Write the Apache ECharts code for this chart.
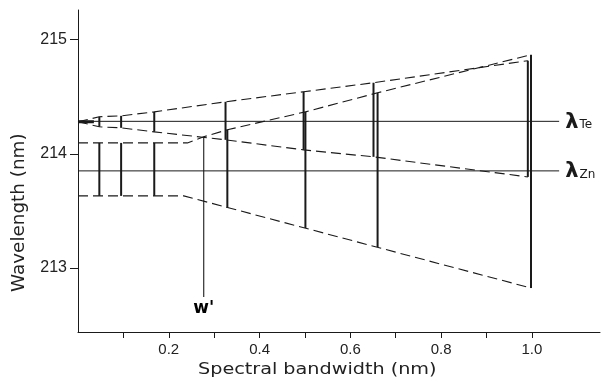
<!DOCTYPE html>
<html><head><meta charset="utf-8">
<script src="https://cdn.jsdelivr.net/npm/echarts@6/dist/echarts.min.js"></script>
<style>html,body{margin:0;padding:0;background:#fff}#c{width:601px;height:384px}</style>
</head><body><div id="c"></div>
<script>
// Tick values
const xTickValues = [0.1,0.2,0.3,0.4,0.5,0.6,0.7,0.8,0.9,1.0];
const xLabelValues = [0.2,0.4,0.6,0.8,1.0];
const yTickValues = [213,214,215];

// Te envelope (bandwidth, upper / lower wavelength)
const teX     = [0, 0.047, 0.095, 0.168, 0.325, 0.497, 0.651, 0.991];
const teUpper = [214.281, 214.325, 214.333, 214.368, 214.456, 214.544, 214.623, 214.816];
const teLower = [214.281, 214.237, 214.228, 214.193, 214.123, 214.035, 213.974, 213.798];

// Zn passbands at each bandwidth
const znBarX   = [0.047, 0.095, 0.168, 0.329, 0.501, 0.660, 0.998];
const znTop    = [214.096, 214.096, 214.096, 214.211, 214.368, 214.535, 214.868];
const znBottom = [213.632, 213.632, 213.632, 213.526, 213.351, 213.184, 212.825];

// Zn envelope lines
const znUpperX = [0, 0.241, 0.277, 0.329, 0.501, 0.660, 0.998];
const znUpperY = [214.096, 214.096, 214.15, 214.211, 214.368, 214.535, 214.868];
const znLowerX = [0, 0.233, 0.998];
const znLowerY = [213.632, 213.632, 212.825];

// Analytical lines
const lambdaTe = 214.285;
const lambdaZn = 213.851;
const lambdaEnd = 1.06;

// w' marker
const wPrimeX = 0.277;
const wPrimeY = [214.15, 212.746];

const INK = '#1a1a1a';
const series = [];
function pts(xs, ys){ return xs.map((x,i)=>[x, ys[i]]); }
function addLine(data, width, dashed, extra){
  series.push(Object.assign({
    type:'line', data, symbol:'none', silent:true, animation:false,
    lineStyle:{color:INK, width, type: dashed ? [10,5] : 'solid'},
    z: 3
  }, extra||{}));
}

// dashed envelopes
addLine(pts(teX, teUpper), 1.1, true);
addLine(pts(teX, teLower), 1.1, true);
addLine(pts(znUpperX, znUpperY), 1.1, true);
addLine(pts(znLowerX, znLowerY), 1.1, true);

// Te bars (skip the convergence point)
for (let i=1;i<teX.length;i++){
  addLine([[teX[i], teLower[i]],[teX[i], teUpper[i]]], 2, false);
}
// Zn bars
for (let i=0;i<znBarX.length;i++){
  addLine([[znBarX[i], znBottom[i]],[znBarX[i], znTop[i]]], 2, false);
}

// small arrow at the origin of the Te lines
addLine([[0, teUpper[0]],[0.035, teUpper[0]]], 3, false);

// lambda lines with labels
const richL = {
  l:{fontSize:21, fontWeight:'bold', color:INK, fontFamily:'DejaVu Sans'},
  s:{fontSize:12, color:INK, fontFamily:'DejaVu Sans', padding:[0,0,-5,1]}
};
addLine([[0, lambdaTe],[lambdaEnd, lambdaTe]], 1, false, {
  endLabel:{show:true, formatter:'{l|λ}{s|Te}', rich:richL, distance:6, offset:[0,1]}
});
addLine([[0, lambdaZn],[lambdaEnd, lambdaZn]], 1, false, {
  endLabel:{show:true, formatter:'{l|λ}{s|Zn}', rich:richL, distance:6, offset:[0,1]}
});

// w' line
addLine([[wPrimeX, wPrimeY[0]],[wPrimeX, wPrimeY[1]]], 1.1, false);

const chart = echarts.init(document.getElementById('c'), null, {renderer:'canvas'});
chart.setOption({
  animation:false,
  backgroundColor:'#fff',
  grid:{left:78, right:1, top:10, bottom:52},
  xAxis:{
    type:'value', min:0, max:1.15,
    axisLine:{show:true, lineStyle:{color:INK, width:1}},
    axisTick:{show:true, length:6, customValues:xTickValues, lineStyle:{color:INK}},
    axisLabel:{customValues:xLabelValues, formatter:v=>v.toFixed(1), margin:10,
      fontSize:15, color:'#222', fontFamily:'Liberation Sans'},
    splitLine:{show:false}
  },
  yAxis:{
    type:'value', min:212.44, max:215.26,
    axisLine:{show:true, lineStyle:{color:INK, width:1}},
    axisTick:{show:true, length:8, customValues:yTickValues, lineStyle:{color:INK}},
    axisLabel:{customValues:yTickValues, formatter:v=>String(Math.round(v)), margin:11,
      fontSize:16, color:'#222', fontFamily:'Liberation Sans'},
    splitLine:{show:false}
  },
  series
});
const wp = chart.convertToPixel({gridIndex:0}, [wPrimeX, wPrimeY[1]]);
chart.setOption({
  graphic:[
    {type:'text', x:198, y:362, scaleX:1.2, style:{text:'Spectral bandwidth (nm)', fontSize:16,
      fontFamily:'DejaVu Sans', fill:'#222'}},
    {type:'text', x:11, y:292, rotation:Math.PI/2, scaleX:1.08, style:{text:'Wavelength (nm)', fontSize:17,
      fontFamily:'DejaVu Sans', fill:'#222'}},
    {type:'text', x:wp[0], y:wp[1]+3, style:{text:"w'", fontSize:17, fontWeight:'bold',
      fontFamily:'DejaVu Sans', fill:'#000', align:'center', verticalAlign:'top'}}
  ]
});
</script></body></html>
